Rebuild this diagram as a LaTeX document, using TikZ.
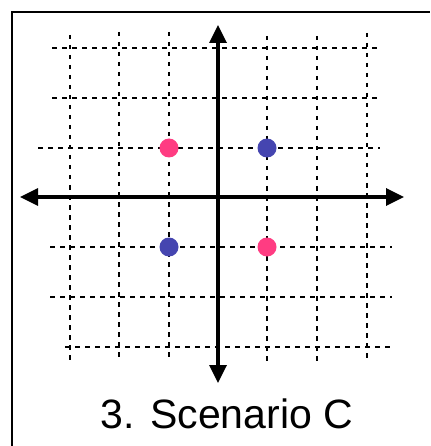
\documentclass[tikz,border=0pt]{standalone}
\usepackage{fontspec}
\setmainfont{Liberation Sans}
\usetikzlibrary{arrows.meta}
\definecolor{dotpink}{HTML}{FF3C82}
\definecolor{dotblue}{HTML}{4545B0}
\tikzset{
  gridline/.style={line width=1.5pt, dash pattern=on 4.5pt off 5.5pt, black},
  axisline/.style={line width=3.4pt, black, -{Triangle[length=18pt,width=17pt]}},
  dotnode/.style={circle, inner sep=0pt, minimum size=19pt, draw=none},
  framebox/.style={line width=2.2pt, black},
}
\begin{document}
\begin{tikzpicture}[x=1pt,y=-1pt]
\useasboundingbox (0,0) rectangle (430,446);
\fill[white] (0,0) rectangle (430,446);
% frame (top and left sides)
\draw[framebox] (12,446) -- (12,12) -- (430,12);
% horizontal grid lines
\draw[gridline] (52,48) -- (380,48);
\draw[gridline] (52,98) -- (380,98);
\draw[gridline] (38,148) -- (380,148);
\draw[gridline] (50,247) -- (392,247);
\draw[gridline] (50,297) -- (392,297);
\draw[gridline] (65,347) -- (392,347);
% vertical grid lines
\draw[gridline] (70,35) -- (70,360);
\draw[gridline] (119,32) -- (119,360);
\draw[gridline] (169,32) -- (169,360);
\draw[gridline] (267,36) -- (267,361);
\draw[gridline] (317,36) -- (317,361);
\draw[gridline] (367,33) -- (367,361);
% axes
\coordinate (xl) at (20,197);
\coordinate (xr) at (404,197);
\coordinate (yt) at (218,25);
\coordinate (yb) at (218,383);
\coordinate (o) at (218,197);
\draw[axisline] (o) -- (xl);
\draw[axisline] (o) -- (xr);
\draw[axisline] (o) -- (yt);
\draw[axisline] (o) -- (yb);
% dots
\node[dotnode, fill=dotpink] (p1) at (169,148) {};
\node[dotnode, fill=dotblue] (b1) at (267,148) {};
\node[dotnode, fill=dotblue] (b2) at (169,247) {};
\node[dotnode, fill=dotpink] (p2) at (267,247) {};
% caption
\node[anchor=base, font=\fontsize{41pt}{48pt}\selectfont, inner sep=0pt] (cap) at (227,428) {3. Scenario C};
\end{tikzpicture}
\end{document}
